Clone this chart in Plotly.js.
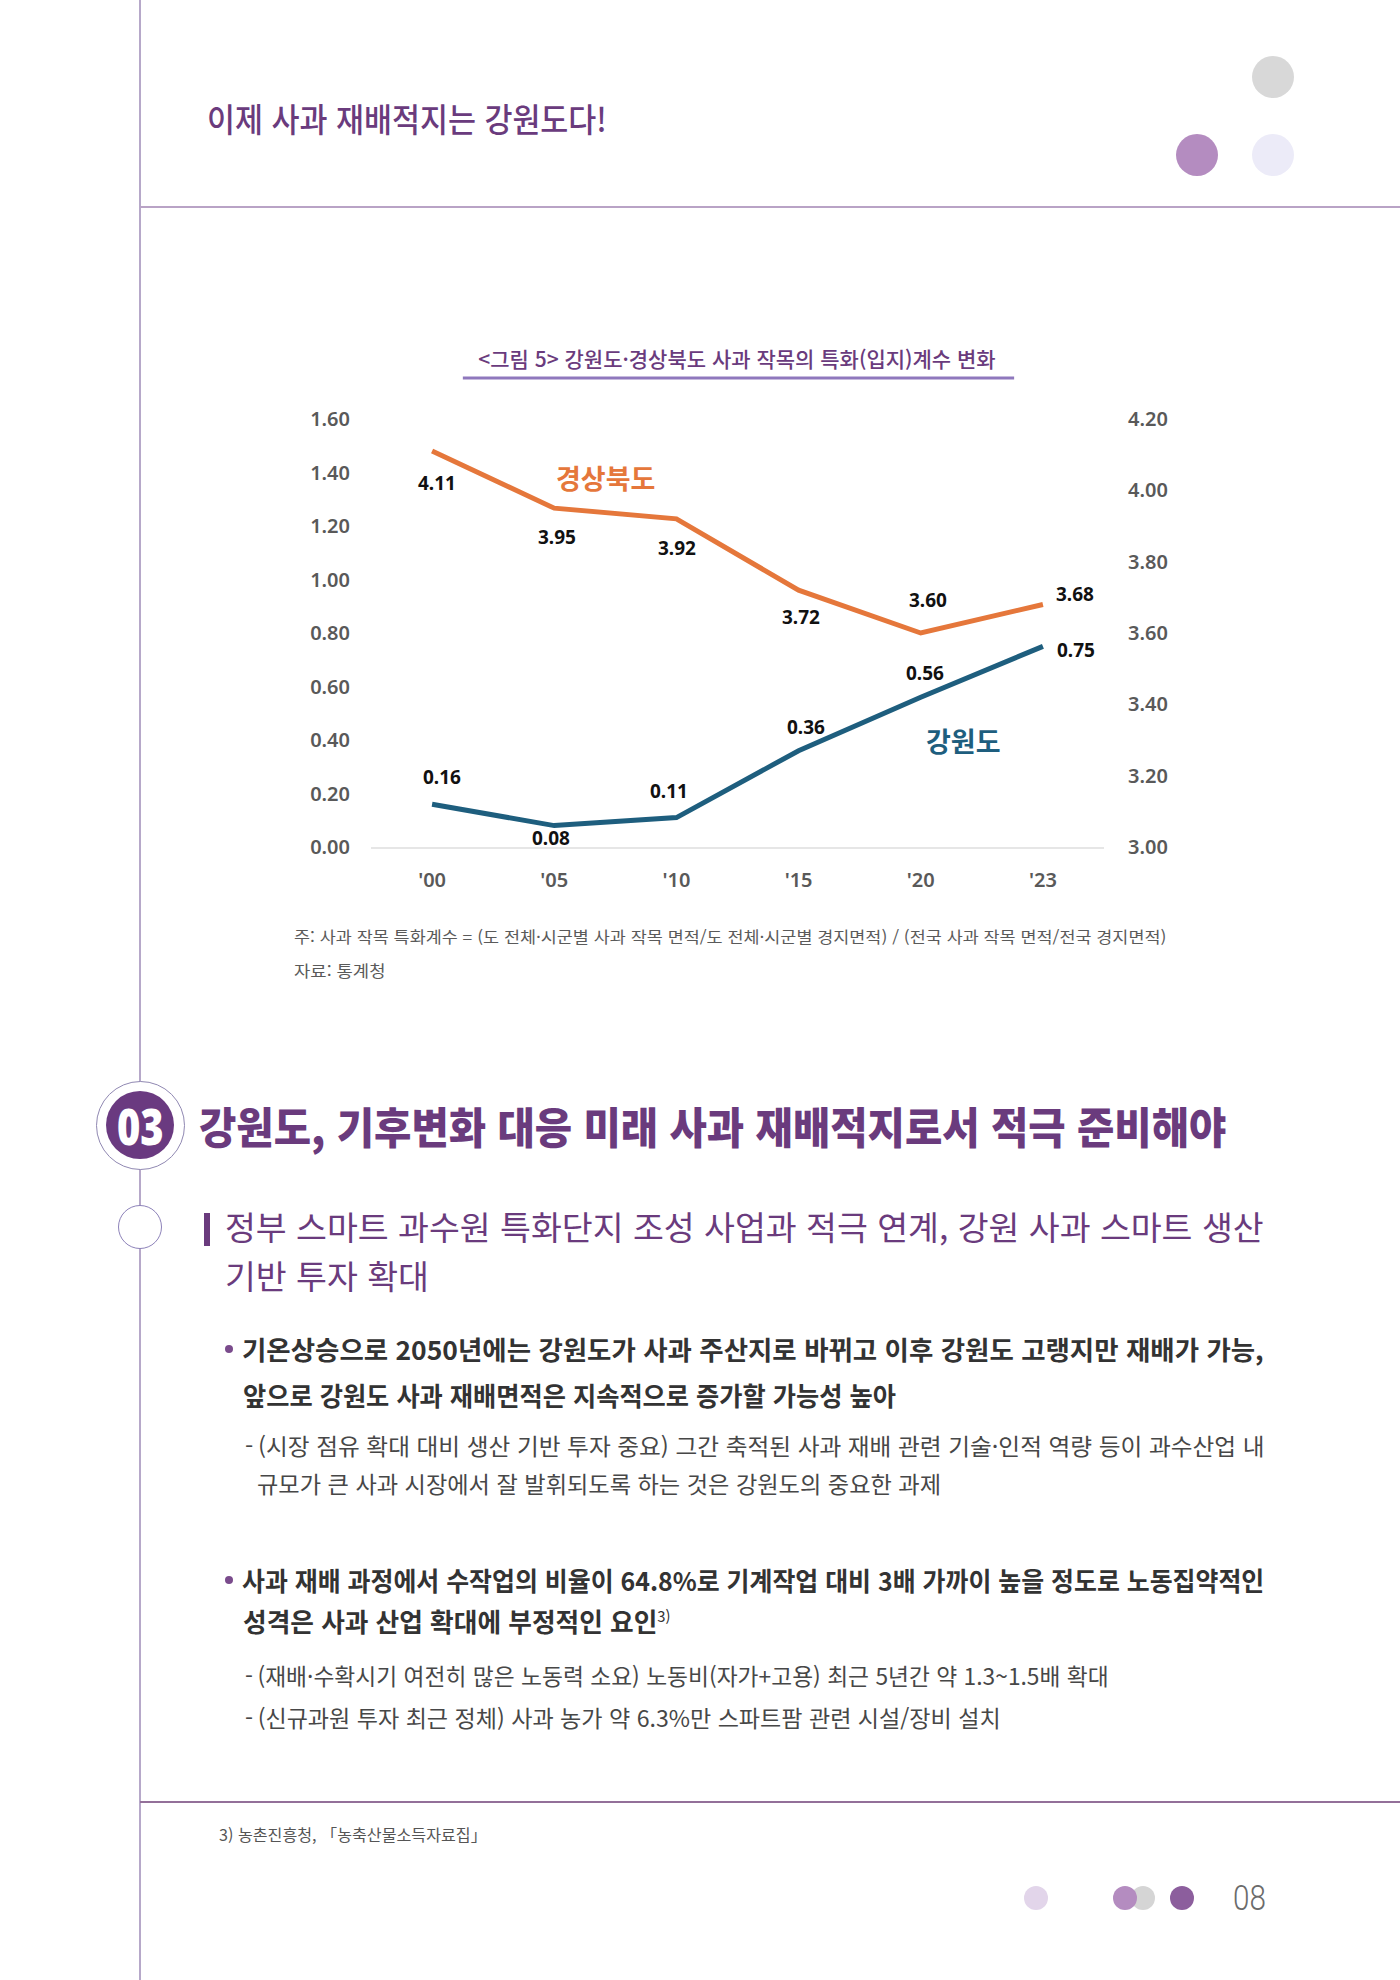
<!DOCTYPE html>
<html lang="ko">
<head>
<meta charset="utf-8">
<title>이제 사과 재배적지는 강원도다!</title>
<script src="https://cdn.plot.ly/plotly-3.0.1.min.js"></script>
<style>
  html, body { margin: 0; padding: 0; background: #ffffff; }
  #page { position: relative; width: 1400px; height: 1980px; overflow: hidden; background: #ffffff;
          font-family: "Noto Sans CJK KR", "Noto Sans", sans-serif; }
  .abs { position: absolute; }
  .t { position: absolute; white-space: nowrap; line-height: 1; transform-origin: 0 50%; }
  .circ { position: absolute; border-radius: 50%; box-sizing: border-box; }
  .purple { color: #6a3b7d; }
  .body-b { font-size: 26px; font-weight: 700; color: #333333; }
  .body-r { font-size: 23px; font-weight: 400; color: #474747; }
  #chart { position: absolute; left: 0; top: 300px; width: 1400px; height: 620px; }
</style>
</head>
<body>
<div id="page">
  <!-- page rules -->
  <div class="abs" style="left:139px;top:0;width:2px;height:1980px;background:#b6a8c9;"></div>
  <div class="abs" style="left:140px;top:206px;width:1260px;height:2px;background:#b9a3c6;"></div>
  <div class="abs" style="left:140px;top:1801px;width:1260px;height:2px;background:#937099;"></div>

  <!-- running header -->
  <div class="t purple" style="font-size:33px;font-weight:500;" data-x="207" data-cy="118" data-w="400">이제 사과 재배적지는 강원도다!</div>
  <div class="circ" style="left:1252px;top:56px;width:42px;height:42px;background:#d8d8d8;"></div>
  <div class="circ" style="left:1176px;top:134px;width:42px;height:42px;background:#b48cc0;"></div>
  <div class="circ" style="left:1252px;top:134px;width:42px;height:42px;background:#ecebf8;"></div>

  <!-- figure -->
  <div id="chart"></div>
  <div class="t" style="font-size:16px;color:#5a5a5a;" data-x="294" data-cy="936" data-w="872">주: 사과 작목 특화계수 = (도 전체·시군별 사과 작목 면적/도 전체·시군별 경지면적) / (전국 사과 작목 면적/전국 경지면적)</div>
  <div class="t" style="font-size:16px;color:#5a5a5a;" data-x="294" data-cy="970" data-w="92">자료: 통계청</div>

  <!-- section 03 -->
  <div class="circ" style="left:95.5px;top:1080.5px;width:89px;height:89px;background:#ffffff;border:1.2px solid #9088b2;"></div>
  <div class="circ" style="left:106px;top:1091px;width:68px;height:68px;background:#6a3a80;"></div>
  <div class="t" style="font-family:'Noto Sans',sans-serif;font-size:50px;font-weight:900;color:#ffffff;" data-cx="140" data-cy="1126" data-w="47">03</div>
  <div class="t purple" style="font-size:43px;font-weight:900;" data-x="199" data-cy="1125" data-w="1027">강원도, 기후변화 대응 미래 사과 재배적지로서 적극 준비해야</div>

  <div class="circ" style="left:118px;top:1205px;width:44px;height:44px;background:#ffffff;border:1.5px solid #8d82b9;"></div>
  <div class="abs" style="left:204px;top:1213px;width:6px;height:33px;background:#6a3b7d;"></div>
  <div class="t purple" style="font-size:33px;font-weight:400;line-height:49px;" data-x="225" data-cy="1251" data-w="1039">정부 스마트 과수원 특화단지 조성 사업과 적극 연계, 강원 사과 스마트 생산<br>기반 투자 확대</div>

  <!-- bullet 1 -->
  <div class="circ" style="left:225px;top:1345px;width:8px;height:8px;background:#7a4b8c;"></div>
  <div class="t body-b" data-x="242" data-cy="1349" data-w="1022">기온상승으로 2050년에는 강원도가 사과 주산지로 바뀌고 이후 강원도 고랭지만 재배가 가능,</div>
  <div class="t body-b" data-x="243" data-cy="1395" data-w="653">앞으로 강원도 사과 재배면적은 지속적으로 증가할 가능성 높아</div>
  <div class="t body-r" data-x="245" data-cy="1445" data-w="1019">-&thinsp;(시장 점유 확대 대비 생산 기반 투자 중요) 그간 축적된 사과 재배 관련 기술·인적 역량 등이 과수산업 내</div>
  <div class="t body-r" data-x="257" data-cy="1483" data-w="684">규모가 큰 사과 시장에서 잘 발휘되도록 하는 것은 강원도의 중요한 과제</div>

  <!-- bullet 2 -->
  <div class="circ" style="left:225px;top:1576px;width:8px;height:8px;background:#7a4b8c;"></div>
  <div class="t body-b" data-x="242" data-cy="1580" data-w="1022">사과 재배 과정에서 수작업의 비율이 64.8%로 기계작업 대비 3배 가까이 높을 정도로 노동집약적인</div>
  <div class="t body-b" data-x="243" data-cy="1621" data-w="428">성격은 사과 산업 확대에 부정적인 요인<span style="font-size:15px;font-weight:400;vertical-align:10px;">3)</span></div>
  <div class="t body-r" data-x="245" data-cy="1675" data-w="864">-&thinsp;(재배·수확시기 여전히 많은 노동력 소요) 노동비(자가+고용) 최근 5년간 약 1.3~1.5배 확대</div>
  <div class="t body-r" data-x="245" data-cy="1717" data-w="756">-&thinsp;(신규과원 투자 최근 정체) 사과 농가 약 6.3%만 스파트팜 관련 시설/장비 설치</div>

  <!-- footnote and folio -->
  <div class="t" style="font-size:16px;color:#555555;" data-x="219" data-cy="1834" data-w="268">3) 농촌진흥청, 「농축산물소득자료집」</div>
  <div class="circ" style="left:1024px;top:1886px;width:24px;height:24px;background:#e2d5ea;"></div>
  <div class="circ" style="left:1131px;top:1886px;width:24px;height:24px;background:#d5d5d5;"></div>
  <div class="circ" style="left:1113px;top:1886px;width:24px;height:24px;background:#b48cc0;"></div>
  <div class="circ" style="left:1170px;top:1886px;width:24px;height:24px;background:#8c5e9d;"></div>
  <div class="t" style="font-family:Roboto,sans-serif;font-size:35px;font-weight:300;color:#6b6b6b;" data-x="1233" data-cy="1898" data-w="33">08</div>
</div>

<script>
// Apple crop specialization (location) quotient, by year
const years = ["'00", "'05", "'10", "'15", "'20", "'23"];
const gyeongbuk = [4.11, 3.95, 3.92, 3.72, 3.60, 3.68];   // 경상북도, right axis
const gangwon = [0.16, 0.08, 0.11, 0.36, 0.56, 0.75];     // 강원도, left axis
const leftTicks = [0.0, 0.2, 0.4, 0.6, 0.8, 1.0, 1.2, 1.4, 1.6];
const rightTicks = [3.0, 3.2, 3.4, 3.6, 3.8, 4.0, 4.2];

// pixel nudges for the value labels [dx, dy], kept apart from the data
const gbShift = [[5, -32], [3, -29], [1, -29], [2, -27], [7, 33], [32, 10]];
const gwShift = [[10, 27], [-3, -12], [-7, 27], [7, 24], [4, 24], [33, -4]];

const ORANGE = '#e5773b';
const BLUE = '#1e5e7e';
const AXIS_GREY = '#595959';

const traces = [
  { x: years, y: gangwon, type: 'scatter', mode: 'lines', name: '강원도',
    line: { color: BLUE, width: 5 }, yaxis: 'y', hoverinfo: 'skip' },
  { x: years, y: gyeongbuk, type: 'scatter', mode: 'lines', name: '경상북도',
    line: { color: ORANGE, width: 5 }, yaxis: 'y2', hoverinfo: 'skip' }
];

const valueFont = { family: 'Noto Sans, sans-serif', size: 19, color: '#111111', weight: 700 };
const annotations = [];
years.forEach((yr, i) => {
  annotations.push({ x: yr, y: gyeongbuk[i], xref: 'x', yref: 'y2', showarrow: false,
    text: gyeongbuk[i].toFixed(2), font: valueFont, xshift: gbShift[i][0], yshift: gbShift[i][1] });
  annotations.push({ x: yr, y: gangwon[i], xref: 'x', yref: 'y', showarrow: false,
    text: gangwon[i].toFixed(2), font: valueFont, xshift: gwShift[i][0], yshift: gwShift[i][1] });
});
annotations.push({ x: 1.42, y: 1.38, xref: 'x', yref: 'y', showarrow: false, text: '경상북도',
  font: { family: 'Noto Sans CJK KR, sans-serif', size: 27, color: ORANGE, weight: 700 } });
annotations.push({ x: 4.35, y: 0.40, xref: 'x', yref: 'y', showarrow: false, text: '강원도',
  font: { family: 'Noto Sans CJK KR, sans-serif', size: 27, color: BLUE, weight: 700 } });

const tickFont = { family: 'Noto Sans, sans-serif', size: 20, color: AXIS_GREY, weight: 600 };

const layout = {
  width: 1400, height: 620,
  margin: { l: 371, r: 296, t: 119, b: 73, pad: 0 },
  paper_bgcolor: 'rgba(0,0,0,0)', plot_bgcolor: 'rgba(0,0,0,0)',
  showlegend: false,
  title: { text: '&lt;그림 5&gt; 강원도·경상북도 사과 작목의 특화(입지)계수 변화',
    font: { family: 'Noto Sans CJK KR, sans-serif', size: 21, color: '#6a3b7d', weight: 500 },
    x: 0.5264, xref: 'container', xanchor: 'center',
    y: 1 - 60 / 620, yref: 'container', yanchor: 'middle' },
  xaxis: { type: 'category', range: [-0.5, 5.5], showgrid: false, zeroline: false,
    showline: true, linecolor: '#e6e6e6', linewidth: 2, ticks: '',
    tickfont: tickFont, ticklabelstandoff: 14, fixedrange: true },
  yaxis: { range: [0, 1.6], tickvals: leftTicks, tickformat: '.2f', showgrid: false,
    zeroline: false, showline: false, ticks: '', tickfont: tickFont,
    ticklabelstandoff: 20, fixedrange: true },
  yaxis2: { range: [3.0, 4.2], tickvals: rightTicks, tickformat: '.2f', overlaying: 'y',
    side: 'right', anchor: 'x', showgrid: false, zeroline: false, showline: false, ticks: '',
    tickfont: tickFont, ticklabelstandoff: 23, fixedrange: true },
  shapes: [{ type: 'line', xref: 'paper', yref: 'paper', x0: 0.1253, x1: 0.8774,
    y0: 1.096, y1: 1.096, line: { color: '#8f78bd', width: 3 } }],
  annotations: annotations
};

Plotly.newPlot('chart', traces, layout, { staticPlot: true, displayModeBar: false });

// place page text by its left edge / centre line and fit it to its measured width
function setText() {
  document.querySelectorAll('.t').forEach(el => {
    el.style.transform = 'none';
    const w = +el.dataset.w;
    const nat = el.offsetWidth;
    const h = el.offsetHeight;
    const left = el.dataset.cx !== undefined ? (+el.dataset.cx - w / 2) : +el.dataset.x;
    el.style.left = left + 'px';
    el.style.top = (+el.dataset.cy - h / 2) + 'px';
    if (w && nat) el.style.transform = 'scaleX(' + (w / nat).toFixed(4) + ')';
  });
}
setText();
if (document.fonts && document.fonts.ready) document.fonts.ready.then(setText);
</script>
</body>
</html>
